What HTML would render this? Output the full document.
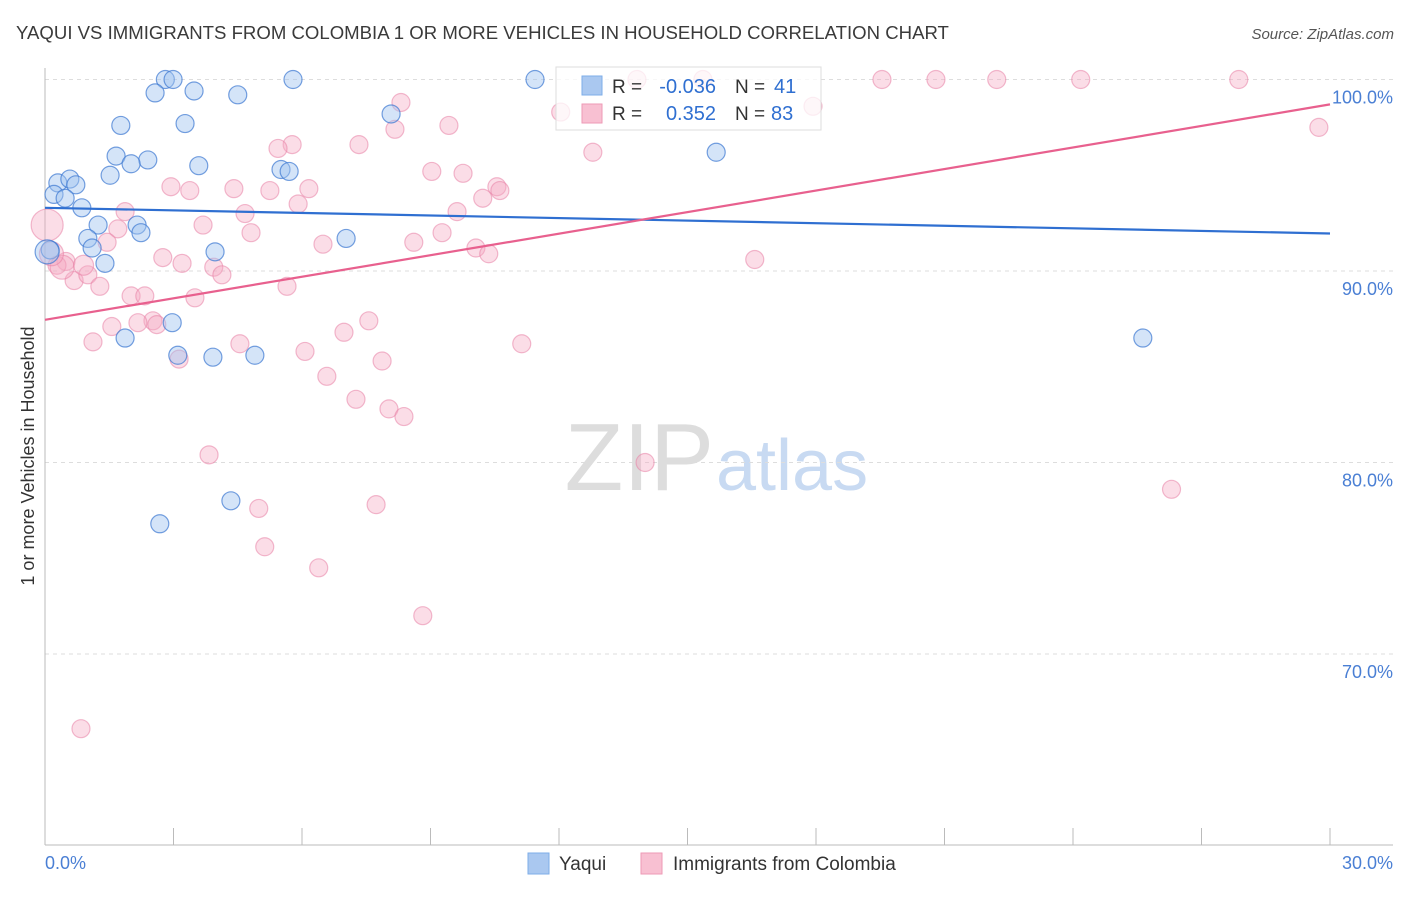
<!DOCTYPE html>
<html><head><meta charset="utf-8">
<style>
body{margin:0;background:#fff;font-family:"Liberation Sans",sans-serif;}
svg text{font-family:"Liberation Sans",sans-serif;}
</style></head>
<body>
<svg id="chart" width="1406" height="892" xmlns="http://www.w3.org/2000/svg">
<text x="16" y="39" font-size="18.6" fill="#3a3a3a">YAQUI VS IMMIGRANTS FROM COLOMBIA 1 OR MORE VEHICLES IN HOUSEHOLD CORRELATION CHART</text>
<text x="1394" y="39" font-size="15" fill="#555" text-anchor="end" font-style="italic">Source: ZipAtlas.com</text>
<text x="714" y="490" font-size="96" fill="#ddd" text-anchor="end" font-family="Liberation Serif">ZIP</text>
<text x="716" y="490" font-size="72" fill="#c8daf2">atlas</text>
<g id="grid"></g>
<g id="axes"></g>
<g id="pts"></g>
<g id="lines"></g>
<text transform="translate(34,456) rotate(-90)" font-size="18" fill="#333" text-anchor="middle">1 or more Vehicles in Household</text>
<text x="45" y="869" font-size="18" fill="#4a7fd4">0.0%</text>
<text x="1393" y="869" font-size="18" fill="#4a7fd4" text-anchor="end">30.0%</text>
<g>
<rect x="556" y="67" width="265" height="63" fill="rgba(255,255,255,0.75)" stroke="#ddd"/>
<rect x="582" y="76" width="20" height="19" fill="#aac8f0" stroke="#7eaee8"/>
<rect x="582" y="104" width="20" height="19" fill="#f8c0d2" stroke="#ee9ab6"/>
<text x="612" y="93" font-size="19" fill="#333">R = </text><text x="716" y="93" font-size="20" fill="#2f6fd1" text-anchor="end">-0.036</text>
<text x="735" y="93" font-size="19" fill="#333">N = </text><text x="774" y="93" font-size="20" fill="#2f6fd1">41</text>
<text x="612" y="120" font-size="19" fill="#333">R = </text><text x="716" y="120" font-size="20" fill="#2f6fd1" text-anchor="end">0.352</text>
<text x="735" y="120" font-size="19" fill="#333">N = </text><text x="771" y="120" font-size="20" fill="#2f6fd1">83</text>
</g>
<g>
<rect x="528" y="853" width="21" height="21" fill="#aac8f0" stroke="#7eaee8"/>
<text x="559" y="870" font-size="19" fill="#333">Yaqui</text>
<rect x="641" y="853" width="21" height="21" fill="#f8c0d2" stroke="#ee9ab6"/>
<text x="673" y="870" font-size="19" fill="#333">Immigrants from Colombia</text>
</g>
</svg>
<script>
const yTicks=[100,90,80,70];
const yTickLabels=["100.0%","90.0%","80.0%","70.0%"];
const xTicks=[0,3,6,9,12,15,18,21,24,27,30];
const yaquiX=[2.81,2.99,5.79,11.44,2.57,3.48,4.50,1.77,3.27,8.08,1.66,2.40,2.01,3.59,1.52,5.51,5.70,15.67,0.30,0.58,0.72,0.21,0.47,0.86,1.24,2.15,2.24,1.00,1.10,7.03,0.12,3.97,1.40,2.97,1.87,3.10,3.92,4.90,25.63,4.34,2.68,0.05];
const yaquiY=[100,100,100,100,99.3,99.4,99.2,97.6,97.7,98.2,96.0,95.8,95.6,95.5,95.0,95.3,95.2,96.2,94.6,94.8,94.5,94.0,93.8,93.3,92.4,92.4,92.0,91.7,91.2,91.7,91.1,91.0,90.4,87.3,86.5,85.6,85.5,85.6,86.5,78.0,76.8,91.0];
const colX=[13.82,15.36,19.54,20.80,22.22,24.18,27.87,17.93,12.04,8.31,8.17,9.43,5.77,5.44,7.33,12.79,29.74,9.03,9.76,2.94,3.38,4.41,5.25,6.16,10.55,10.62,10.22,5.91,1.87,4.67,9.62,3.69,1.70,4.81,9.27,1.45,6.49,8.61,10.06,10.36,16.57,2.75,3.20,0.49,0.28,3.94,4.13,0.68,1.00,1.28,5.65,2.01,2.33,3.50,2.52,2.17,2.61,1.56,7.56,6.98,1.12,4.55,11.13,6.07,3.13,7.87,6.58,7.26,8.03,8.38,3.83,14.01,26.30,4.99,7.73,5.13,6.39,8.82,0.84,0.05,0.40,0.15,0.90];
const colY=[100,100,100,100,100,100,100,98.6,98.3,98.8,97.4,97.6,96.6,96.4,96.6,96.2,97.5,95.2,95.1,94.4,94.2,94.3,94.2,94.3,94.4,94.2,93.8,93.5,93.1,93.0,93.1,92.4,92.2,92.0,92.0,91.5,91.4,91.5,91.2,90.9,90.6,90.7,90.4,90.5,90.3,90.2,89.8,89.5,89.8,89.2,89.2,88.7,88.7,88.6,87.4,87.3,87.2,87.1,87.4,86.8,86.3,86.2,86.2,85.8,85.4,85.3,84.5,83.3,82.8,82.4,80.4,80.0,78.6,77.6,77.8,75.6,74.5,72.0,66.1,92.4,90.2,90.9,90.3];
const colR=[9,9,9,9,9,9,9,9,9,9,9,9,9,9,9,9,9,9,9,9,9,9,9,9,9,9,9,9,9,9,9,9,9,9,9,9,9,9,9,9,9,9,9,9,9,9,9,9,9,9,9,9,9,9,9,9,9,9,9,9,9,9,9,9,9,9,9,9,9,9,9,9,9,9,9,9,9,9,9,16,12,12,10];
const yaquiTrend=[93.3,91.96];
const colTrend=[87.45,98.7];
const NS="http://www.w3.org/2000/svg";
const sx=v=>45+v/30*1285;
const sy=v=>79.5+(100-v)*19.15;
function mk(tag,attrs,parent){const e=document.createElementNS(NS,tag);for(const k in attrs)e.setAttribute(k,attrs[k]);document.getElementById(parent).appendChild(e);return e;}
yTicks.forEach((t,i)=>{
 const g=mk('line',{x1:45,x2:1393,y1:sy(t),y2:sy(t),stroke:'#ddd','stroke-dasharray':'4,4'},'grid');
 
 
 const tx=mk('text',{x:1393,y:sy(t)+24,'font-size':18,fill:'#4a7fd4','text-anchor':'end'},'grid');
 tx.textContent=yTickLabels[i];
 
 
});
let a=mk('line',{x1:45,x2:45,y1:68,y2:845,stroke:'#bbb'},'axes');


a=mk('line',{x1:45,x2:1393,y1:845,y2:845,stroke:'#bbb'},'axes');


xTicks.forEach(t=>{
 const l=mk('line',{x1:sx(t),x2:sx(t),y1:828,y2:845,stroke:'#bbb'},'axes');
 
 
});
colX.forEach((x,i)=>{
 const c=mk('circle',{cx:sx(x),cy:sy(colY[i]),r:colR[i],fill:'rgba(245,170,195,0.4)',stroke:'rgba(232,130,165,0.55)','stroke-width':1.2},'pts');
 
 
});
yaquiX.forEach((x,i)=>{
 const c=mk('circle',{cx:sx(x),cy:sy(yaquiY[i]),r:i==yaquiX.length-1?12:9,fill:'rgba(160,195,240,0.45)',stroke:'rgba(60,120,210,0.7)','stroke-width':1.2},'pts');
 
 
});
let t=mk('line',{x1:sx(0),x2:sx(30),y1:sy(yaquiTrend[0]),y2:sy(yaquiTrend[1]),stroke:'#2f6fd1','stroke-width':2.2},'lines');


t=mk('line',{x1:sx(0),x2:sx(30),y1:sy(colTrend[0]),y2:sy(colTrend[1]),stroke:'#e8608e','stroke-width':2.2},'lines');


</script>
</body></html>
